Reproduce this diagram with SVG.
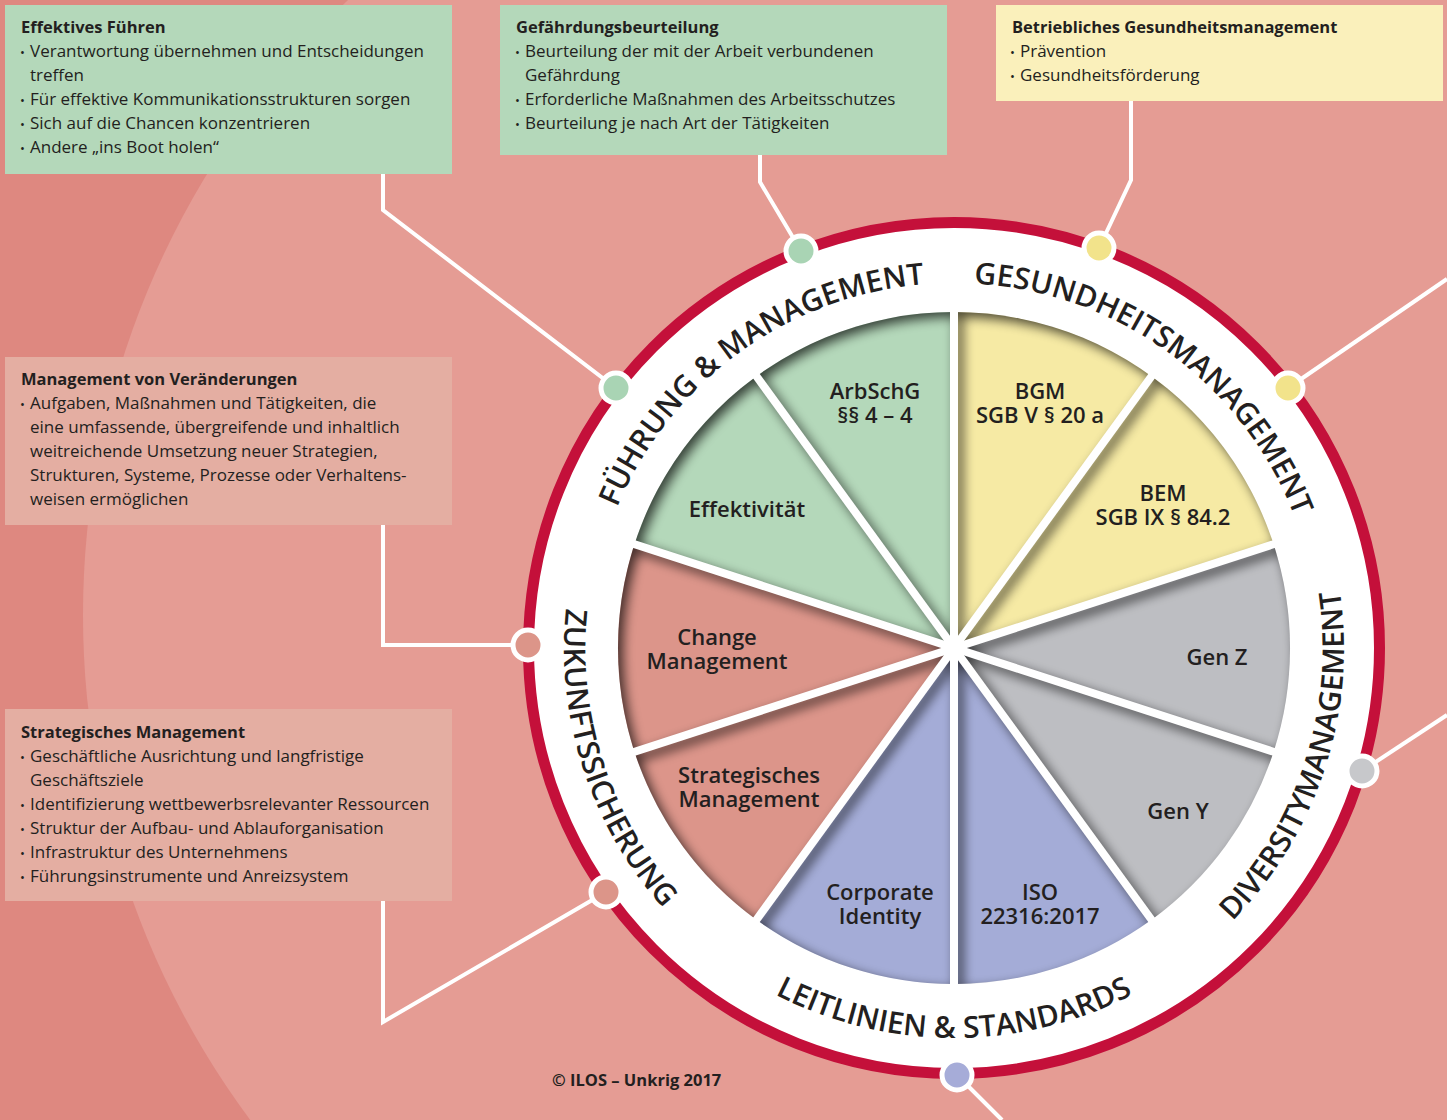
<svg xmlns="http://www.w3.org/2000/svg" width="1447" height="1120" viewBox="0 0 1447 1120">
<defs>
<style>
.bx text{font-family:"Open Sans","Noto Sans","DejaVu Sans",sans-serif;fill:#231f20;font-size:17px;}
.bx .ttl{font-weight:700;font-size:16.5px;}
.bx .bul{font-size:13px;}
.lbl{font-family:"Open Sans","Noto Sans",sans-serif;font-size:22px;font-weight:600;fill:#231f20;text-anchor:middle;}
.ring{font-family:"Open Sans","Noto Sans",sans-serif;font-size:30px;font-weight:600;fill:#231f20;}
.con{stroke:#fff;stroke-width:4;fill:none;stroke-linecap:butt;}
.nd{stroke:#fff;stroke-width:5;}
.sep{stroke:#fff;stroke-width:8;}
.g{fill:#b4d8ba;}
.y{fill:#f6eaa4;}
.gr{fill:#bdbec2;}
.b{fill:#a4acd7;}
.s{fill:#dc958a;}
</style>
<filter id="shadow" x="-20%" y="-20%" width="140%" height="140%">
<feGaussianBlur in="SourceAlpha" stdDeviation="6"/>
<feOffset dx="5" dy="5"/>
<feComponentTransfer><feFuncA type="linear" slope="0.7"/></feComponentTransfer>
</filter>
<clipPath id="pie"><circle cx="954" cy="648" r="336"/></clipPath>
<path id="arcFM" d="M591,686.2 A365,365 0 0 1 1102.5,314.6"/>
<path id="arcGM" d="M805.5,314.6 A365,365 0 0 1 1317,686.2"/>
<path id="arcDM" d="M1035.1,1029.5 A390,390 0 0 0 1243.8,387"/>
<path id="arcLS" d="M616.3,843 A390,390 0 0 0 1291.7,843"/>
<path id="arcZS" d="M664.2,387 A390,390 0 0 0 872.9,1029.5"/>
<g id="seps">
<line x1="954" y1="648" x2="954" y2="300"/>
<line x1="954" y1="648" x2="1158.6" y2="366.5"/>
<line x1="954" y1="648" x2="1284.9" y2="540.5"/>
<line x1="954" y1="648" x2="1284.9" y2="755.5"/>
<line x1="954" y1="648" x2="1158.6" y2="929.5"/>
<line x1="954" y1="648" x2="954" y2="996"/>
<line x1="954" y1="648" x2="749.4" y2="929.5"/>
<line x1="954" y1="648" x2="623.1" y2="755.5"/>
<line x1="954" y1="648" x2="623.1" y2="540.5"/>
<line x1="954" y1="648" x2="749.4" y2="366.5"/>
</g>
</defs>

<g id="background">
<rect x="0" y="0" width="1447" height="1120" fill="#de8880"/>
<circle cx="929" cy="615" r="846" fill="#e59c94"/>
</g>

<g id="connectors">
<polyline class="con" points="383,173 383,210 617,389"/>
<polyline class="con" points="760,155 760,182 801,251"/>
<polyline class="con" points="1131,101 1131,180 1099,248"/>
<line class="con" x1="1288" y1="388" x2="1447" y2="279"/>
<polyline class="con" points="383,525 383,645 528,645"/>
<line class="con" x1="1362" y1="771" x2="1447" y2="715"/>
<polyline class="con" points="383,900 383,1022 606,892"/>
<line class="con" x1="957" y1="1075" x2="1002" y2="1120"/>
</g>

<g id="wheel">
<circle cx="954" cy="648" r="421" fill="#fff"/>
<g id="sector-bgm"><path class="y" d="M954,648 L954,312 A336,336 0 0 1 1151.5,376.2 Z"/></g>
<g id="sector-bem"><path class="y" d="M954,648 L1151.5,376.2 A336,336 0 0 1 1273.6,544.2 Z"/></g>
<g id="sector-genz"><path class="gr" d="M954,648 L1273.6,544.2 A336,336 0 0 1 1273.6,751.8 Z"/></g>
<g id="sector-geny"><path class="gr" d="M954,648 L1273.6,751.8 A336,336 0 0 1 1151.5,919.8 Z"/></g>
<g id="sector-iso"><path class="b" d="M954,648 L1151.5,919.8 A336,336 0 0 1 954,984 Z"/></g>
<g id="sector-ci"><path class="b" d="M954,648 L954,984 A336,336 0 0 1 756.5,919.8 Z"/></g>
<g id="sector-strat"><path class="s" d="M954,648 L756.5,919.8 A336,336 0 0 1 634.4,751.8 Z"/></g>
<g id="sector-change"><path class="s" d="M954,648 L634.4,751.8 A336,336 0 0 1 634.4,544.2 Z"/></g>
<g id="sector-eff"><path class="g" d="M954,648 L634.4,544.2 A336,336 0 0 1 756.5,376.2 Z"/></g>
<g id="sector-arbschg"><path class="g" d="M954,648 L756.5,376.2 A336,336 0 0 1 954,312 Z"/></g>
<g clip-path="url(#pie)">
<g filter="url(#shadow)">
<circle cx="954" cy="648" r="392" fill="none" stroke="#000" stroke-width="112"/>
<use href="#seps" stroke="#000" stroke-width="8"/>
<circle cx="954" cy="648" r="9" fill="#000"/>
</g>
</g>
<use href="#seps" class="sep"/>
<circle cx="954" cy="648" r="9" fill="#fff"/>
<circle cx="954" cy="648" r="425.5" fill="none" stroke="#c4103a" stroke-width="11"/>
</g>

<g id="sector-labels">
<text class="lbl"><tspan x="875" y="399">ArbSchG</tspan><tspan x="875" y="423">§§ 4 – 4</tspan></text>
<text class="lbl"><tspan x="1040" y="399">BGM</tspan><tspan x="1040" y="423">SGB V § 20 a</tspan></text>
<text class="lbl"><tspan x="1163" y="501">BEM</tspan><tspan x="1163" y="525">SGB IX § 84.2</tspan></text>
<text class="lbl" x="747" y="517">Effektivität</text>
<text class="lbl"><tspan x="717" y="645">Change</tspan><tspan x="717" y="669">Management</tspan></text>
<text class="lbl"><tspan x="749" y="783">Strategisches</tspan><tspan x="749" y="807">Management</tspan></text>
<text class="lbl"><tspan x="880" y="900">Corporate</tspan><tspan x="880" y="924">Identity</tspan></text>
<text class="lbl"><tspan x="1040" y="900">ISO</tspan><tspan x="1040" y="924">22316:2017</tspan></text>
<text class="lbl" x="1217" y="665">Gen Z</text>
<text class="lbl" x="1178" y="819">Gen Y</text>
</g>

<g id="ring-labels">
<text class="ring"><textPath href="#arcFM" startOffset="50%" text-anchor="middle">FÜHRUNG &amp; MANAGEMENT</textPath></text>
<text class="ring"><textPath href="#arcGM" startOffset="50%" text-anchor="middle">GESUNDHEITSMANAGEMENT</textPath></text>
<text class="ring"><textPath href="#arcDM" startOffset="50%" text-anchor="middle">DIVERSITYMANAGEMENT</textPath></text>
<text class="ring"><textPath href="#arcLS" startOffset="50%" text-anchor="middle">LEITLINIEN &amp; STANDARDS</textPath></text>
<text class="ring"><textPath href="#arcZS" startOffset="50%" text-anchor="middle">ZUKUNFTSSICHERUNG</textPath></text>
</g>

<g id="ring-nodes">
<circle id="node-fm1" class="nd" cx="801" cy="251" r="15" fill="#a9d4b4"/>
<circle id="node-fm2" class="nd" cx="616" cy="388" r="15" fill="#a9d4b4"/>
<circle id="node-gm1" class="nd" cx="1099" cy="248" r="15" fill="#f2e38b"/>
<circle id="node-gm2" class="nd" cx="1288" cy="388" r="15" fill="#f2e38b"/>
<circle id="node-zs1" class="nd" cx="528" cy="645" r="15" fill="#dc9589"/>
<circle id="node-zs2" class="nd" cx="606" cy="892" r="15" fill="#dc9589"/>
<circle id="node-dm" class="nd" cx="1362" cy="771" r="15" fill="#c7c8cb"/>
<circle id="node-ls" class="nd" cx="957" cy="1075" r="15" fill="#a6acd8"/>
</g>

<g id="box-fuehren" class="bx">
<rect x="5" y="5" width="447" height="169" fill="#b4d8ba"/>
<text class="ttl" x="21" y="33">Effektives Führen</text>
<text y="57"><tspan class="bul" x="20">•</tspan><tspan x="30">Verantwortung übernehmen und Entscheidungen</tspan></text>
<text x="30" y="81">treffen</text>
<text y="105"><tspan class="bul" x="20">•</tspan><tspan x="30">Für effektive Kommunikationsstrukturen sorgen</tspan></text>
<text y="129"><tspan class="bul" x="20">•</tspan><tspan x="30">Sich auf die Chancen konzentrieren</tspan></text>
<text y="153"><tspan class="bul" x="20">•</tspan><tspan x="30">Andere „ins Boot holen“</tspan></text>
</g>

<g id="box-gefaehrdung" class="bx">
<rect x="500" y="5" width="447" height="150" fill="#b4d8ba"/>
<text class="ttl" x="516" y="33">Gefährdungsbeurteilung</text>
<text y="57"><tspan class="bul" x="515">•</tspan><tspan x="525">Beurteilung der mit der Arbeit verbundenen</tspan></text>
<text x="525" y="81">Gefährdung</text>
<text y="105"><tspan class="bul" x="515">•</tspan><tspan x="525">Erforderliche Maßnahmen des Arbeitsschutzes</tspan></text>
<text y="129"><tspan class="bul" x="515">•</tspan><tspan x="525">Beurteilung je nach Art der Tätigkeiten</tspan></text>
</g>

<g id="box-bgm" class="bx">
<rect x="996" y="5" width="447" height="96" fill="#faf0bb"/>
<text class="ttl" x="1012" y="33">Betriebliches Gesundheitsmanagement</text>
<text y="57"><tspan class="bul" x="1010">•</tspan><tspan x="1020">Prävention</tspan></text>
<text y="81"><tspan class="bul" x="1010">•</tspan><tspan x="1020">Gesundheitsförderung</tspan></text>
</g>

<g id="box-veraenderung" class="bx">
<rect x="5" y="357" width="447" height="168" fill="#e4aea2"/>
<text class="ttl" x="21" y="385">Management von Veränderungen</text>
<text y="409"><tspan class="bul" x="20">•</tspan><tspan x="30">Aufgaben, Maßnahmen und Tätigkeiten, die</tspan></text>
<text x="30" y="433">eine umfassende, übergreifende und inhaltlich</text>
<text x="30" y="457">weitreichende Umsetzung neuer Strategien,</text>
<text x="30" y="481">Strukturen, Systeme, Prozesse oder Verhaltens-</text>
<text x="30" y="505">weisen ermöglichen</text>
</g>

<g id="box-strategie" class="bx">
<rect x="5" y="709" width="447" height="192" fill="#e4aea2"/>
<text class="ttl" x="21" y="738">Strategisches Management</text>
<text y="762"><tspan class="bul" x="20">•</tspan><tspan x="30">Geschäftliche Ausrichtung und langfristige</tspan></text>
<text x="30" y="786">Geschäftsziele</text>
<text y="810"><tspan class="bul" x="20">•</tspan><tspan x="30">Identifizierung wettbewerbsrelevanter Ressourcen</tspan></text>
<text y="834"><tspan class="bul" x="20">•</tspan><tspan x="30">Struktur der Aufbau- und Ablauforganisation</tspan></text>
<text y="858"><tspan class="bul" x="20">•</tspan><tspan x="30">Infrastruktur des Unternehmens</tspan></text>
<text y="882"><tspan class="bul" x="20">•</tspan><tspan x="30">Führungsinstrumente und Anreizsystem</tspan></text>
</g>

<g id="copyright" class="bx">
<text class="ttl" x="552" y="1086">© ILOS – Unkrig 2017</text>
</g>
</svg>
